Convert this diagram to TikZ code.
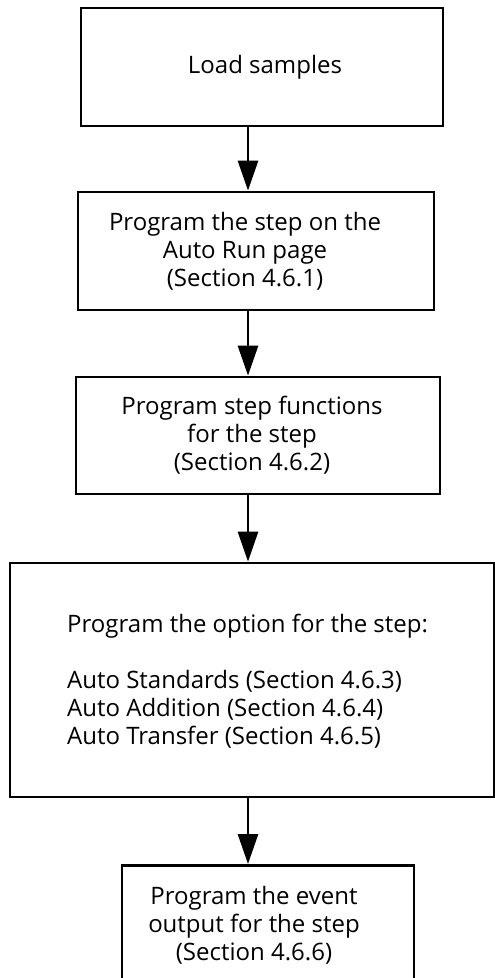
\documentclass[tikz,border=0pt]{standalone}
\usepackage{fontspec}
\setmainfont{Open Sans}
\usetikzlibrary{arrows.meta}
\begin{document}
\begin{tikzpicture}[x=1pt,y=1pt,
  box/.style={draw=black, line width=2.8pt, rectangle, inner sep=0pt},
  txt/.style={inner sep=0pt, align=center, font=\fontsize{24}{28}\selectfont},
  arr/.style={line width=2.8pt, -{Triangle[length=30pt,width=20pt]}}]
\useasboundingbox (0,0) rectangle (495,-978);
\clip (0,0) rectangle (495,-978);
\coordinate (ax) at (248,0);
\node[box, minimum width=362pt, minimum height=118pt] (b1) at (262,-67) {};
\node[txt] (t1) at ([xshift=3pt]b1.center) {Load samples};
\node[box, minimum width=356pt, minimum height=118pt] (b2) at (256,-251) {};
\node[txt] (t2) at ([xshift=-11pt]b2.center)
  {Program the step on the\\Auto Run page\\(Section 4.6.1)};
\node[box, minimum width=364pt, minimum height=117pt] (b3) at (258,-435.5) {};
\node[txt] (t3) at ([xshift=-6pt]b3.center)
  {Program step functions\\for the step\\(Section 4.6.2)};
\node[box, minimum width=484pt, minimum height=234pt] (b4) at (252,-680) {};
\node[txt, align=left, anchor=north west] (t4) at (67,-614)
  {Program the option for the step:\\[28pt]Auto Standards (Section 4.6.3)\\Auto Addition (Section 4.6.4)\\Auto Transfer (Section 4.6.5)};
\node[box, minimum width=292pt, minimum height=150pt, anchor=north] (b5) at (268,-864) {};
\node[txt, anchor=north] (t5) at (254,-886)
  {Program the event\\output for the step\\(Section 4.6.6)};
\draw[arr] (b1.south -| ax) -- (b2.north -| ax);
\draw[arr] (b2.south -| ax) -- (b3.north -| ax);
\draw[arr] (b3.south -| ax) -- (b4.north -| ax);
\draw[arr] (b4.south -| ax) -- (b5.north -| ax);
\end{tikzpicture}
\end{document}
